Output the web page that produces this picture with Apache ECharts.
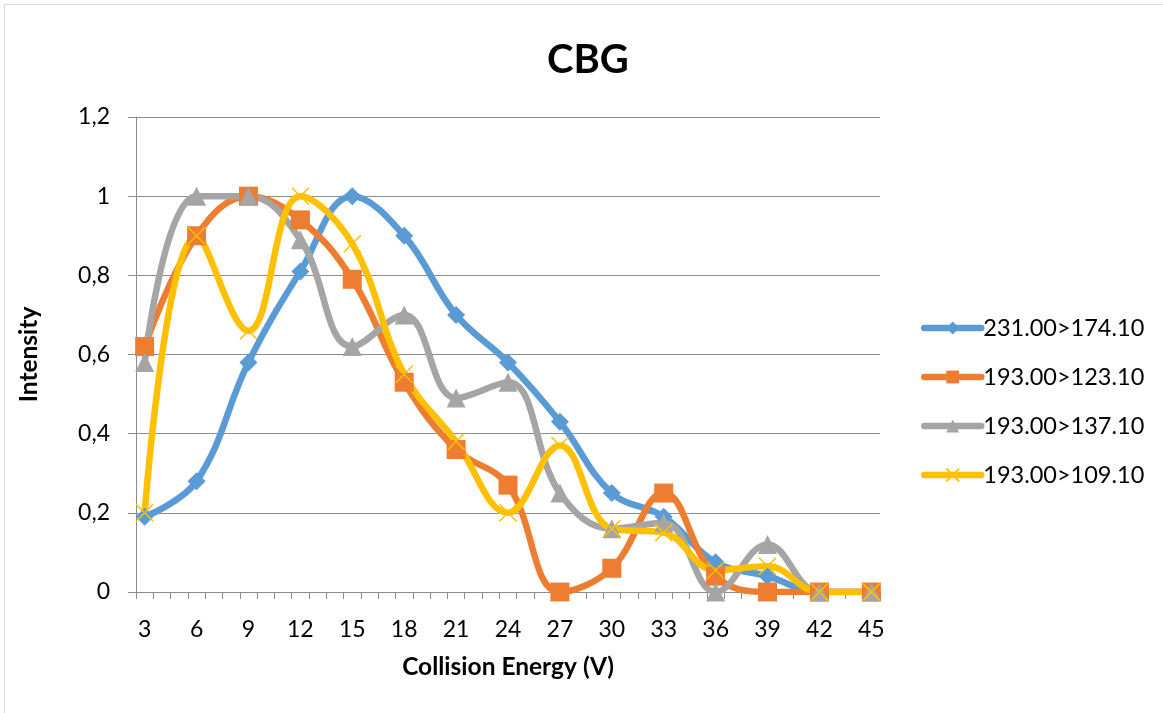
<!DOCTYPE html>
<html>
<head>
<meta charset="utf-8">
<script src="https://cdn.jsdelivr.net/npm/echarts@6/dist/echarts.min.js"></script>
<style>
  html, body { margin: 0; padding: 0; background: #ffffff; }
  #frame { position: absolute; left: 4px; top: 4px; width: 1170px; height: 720px;
           border-left: 1px solid #d9d9d9; border-top: 1px solid #d9d9d9; }
  #chart { position: absolute; left: 0; top: 0; width: 1163px; height: 713px; }
</style>
</head>
<body>
<div id="frame"></div>
<div id="chart"></div>
<script>
// Collision energies (V)
const energies = [3, 6, 9, 12, 15, 18, 21, 24, 27, 30, 33, 36, 39, 42, 45];

// Normalised intensities per transition
const t231_174 = [0.19, 0.28, 0.58, 0.81, 1.00, 0.90, 0.70, 0.58, 0.43, 0.25, 0.19, 0.075, 0.04, 0.00, 0.00];
const t193_123 = [0.62, 0.90, 1.00, 0.94, 0.79, 0.53, 0.36, 0.27, 0.00, 0.06, 0.25, 0.04, 0.00, 0.00, 0.00];
const t193_137 = [0.58, 1.00, 1.00, 0.89, 0.62, 0.70, 0.49, 0.53, 0.25, 0.16, 0.175, 0.00, 0.12, 0.00, 0.00];
const t193_109 = [0.20, 0.90, 0.66, 1.00, 0.88, 0.55, 0.38, 0.20, 0.37, 0.16, 0.15, 0.055, 0.065, 0.00, 0.00];

const seriesNames = ['231.00>174.10', '193.00>123.10', '193.00>137.10', '193.00>109.10'];

// minor ticks every 1 V between categories
const minorTicks = [];
for (let v = 2.5; v <= 45.5; v += 1) minorTicks.push(v);

const FONT = 'Lato, "Open Sans", sans-serif';
const crossPath = 'path://M0,0L10,10M10,0L0,10';
const LINE_W = 6.5;

function pairs(vals) { return energies.map((e, i) => [e, vals[i]]); }

function lineSeries(name, vals, color, symbol, size, extra) {
  return Object.assign({
    name: name,
    type: 'line',
    data: pairs(vals),
    smooth: 0.4,
    symbol: symbol,
    symbolSize: size,
    showAllSymbol: true,
    lineStyle: { color: color, width: LINE_W, cap: 'round', join: 'round' },
    itemStyle: { color: color },
    emphasis: { disabled: true },
    animation: false
  }, extra || {});
}

const chart = echarts.init(document.getElementById('chart'), null, { renderer: 'canvas' });

chart.setOption({
  backgroundColor: 'transparent',
  animation: false,
  textStyle: { fontFamily: FONT },
  title: {
    text: 'CBG',
    left: 542,
    top: 35,
    textStyle: { fontFamily: FONT, fontSize: 40, fontWeight: 'bold', color: '#000' }
  },
  grid: { left: 136, right: 283, top: 117, bottom: 121, containLabel: false },
  legend: {
    orient: 'vertical',
    left: 921,
    top: 316,
    padding: 0,
    itemWidth: 57,
    itemHeight: 16,
    itemGap: 25,
    lineStyle: { width: LINE_W, cap: 'round' },
    textStyle: { fontFamily: FONT, fontSize: 23.5, color: '#000', padding: [0, 0, 0, -3] },
    data: seriesNames
  },
  xAxis: {
    type: 'value',
    min: 2.5,
    max: 45.5,
    name: 'Collision Energy (V)',
    nameLocation: 'middle',
    nameGap: 63,
    nameTextStyle: { fontFamily: FONT, fontSize: 24.5, fontWeight: 'bold', color: '#000' },
    axisLine: { show: true, lineStyle: { color: '#8c8c8c', width: 1 } },
    axisTick: { show: true, customValues: minorTicks, length: 7, lineStyle: { color: '#8c8c8c' } },
    axisLabel: { customValues: energies, margin: 26, fontFamily: FONT, fontSize: 23, color: '#000' },
    splitLine: { show: false }
  },
  yAxis: {
    type: 'value',
    min: 0,
    max: 1.2,
    interval: 0.2,
    name: 'Intensity',
    nameLocation: 'middle',
    nameGap: 94,
    nameRotate: 90,
    nameTextStyle: { fontFamily: FONT, fontSize: 24.5, fontWeight: 'bold', color: '#000' },
    axisLine: { show: true, lineStyle: { color: '#8c8c8c', width: 1 } },
    axisTick: { show: true, length: 8, lineStyle: { color: '#8c8c8c' } },
    axisLabel: {
      margin: 26, fontFamily: FONT, fontSize: 23, color: '#000',
      formatter: v => String(Math.round(v * 10) / 10).replace('.', ',')
    },
    splitLine: { show: true, lineStyle: { color: '#8c8c8c', width: 1 } }
  },
  series: [
    lineSeries(seriesNames[0], t231_174, '#5B9BD5', 'diamond', 18),
    lineSeries(seriesNames[1], t193_123, '#ED7D31', 'rect', 19),
    lineSeries(seriesNames[2], t193_137, '#A5A5A5', 'triangle', 19),
    lineSeries(seriesNames[3], t193_109, '#FFC000', crossPath, 17, {
      itemStyle: { color: 'rgba(0,0,0,0)', borderColor: '#FFC000', borderWidth: 1.5 }
    })
  ]
});
</script>
</body>
</html>
